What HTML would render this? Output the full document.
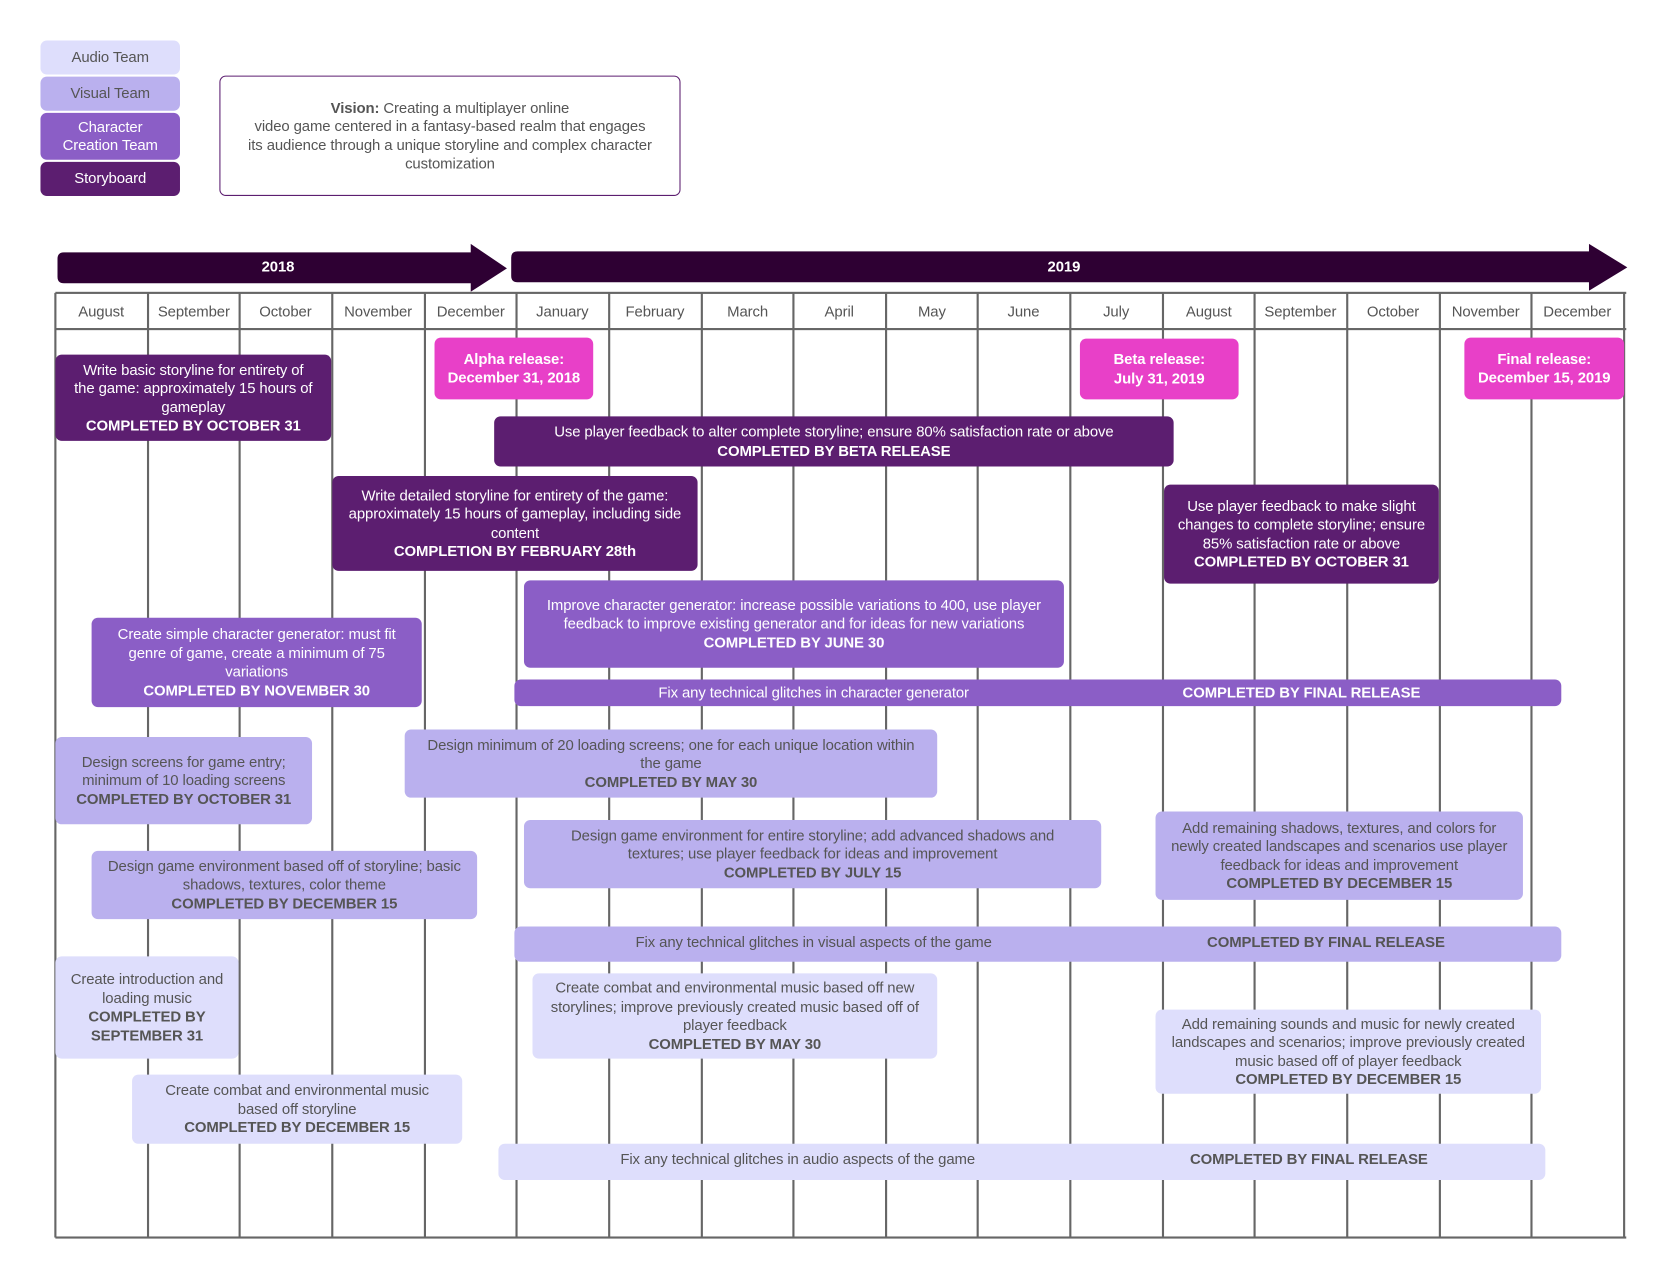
<!DOCTYPE html>
<html><head><meta charset="utf-8"><style>
html,body{margin:0;padding:0;background:#fff;}
body{width:1670px;height:1282px;overflow:hidden;position:relative;}
#w{position:absolute;left:0;top:0;width:1560px;height:1198px;transform:scale(1.065);transform-origin:0 0;font-family:"Liberation Sans",Arial,sans-serif;font-size:14px;line-height:17.5px;letter-spacing:-0.1px;}
.b{position:absolute;display:flex;align-items:center;justify-content:center;text-align:center;border-radius:6px;box-sizing:border-box;padding:0 2px;white-space:nowrap;}
.s{background:#5c1e70;color:#fff;}
.c{background:#8b5ec6;color:#fff;}
.v{background:#bab0ee;color:#555;}
.a{background:#dedefc;color:#555;}
.p{background:#e840c8;color:#fff;font-weight:bold;}
b{font-weight:bold;}
.vl{position:absolute;top:275px;height:887px;width:2px;background:#666;}
.hl{position:absolute;left:52px;width:1475px;height:2px;background:#666;}
.m{position:absolute;top:276px;height:33px;width:86px;display:flex;align-items:center;justify-content:center;color:#555;font-size:14px;}
.t{position:absolute;display:flex;align-items:center;justify-content:center;white-space:nowrap;}
</style></head><body><div id="w">
<div class="b a" style="left:38px;top:38px;width:131px;height:32px;">Audio Team</div>
<div class="b v" style="left:38px;top:72px;width:131px;height:32px;">Visual Team</div>
<div class="b c" style="left:38px;top:106px;width:131px;height:44px;">Character<br>Creation Team</div>
<div class="b s" style="left:38px;top:152px;width:131px;height:32px;">Storyboard</div>
<div class="b" style="left:206px;top:71px;width:433px;height:113px;border:1px solid #5c1e70;color:#555;"><div><b>Vision:</b> Creating a multiplayer online<br>video game centered in a fantasy-based realm that engages<br>its audience through a unique storyline and complex character<br>customization</div></div>

<svg style="position:absolute;left:0;top:0" width="1560" height="290">
<path d="M60 237 H442 V229 L476 252 L442 274 V266 H60 Q54 266 54 260 V243 Q54 237 60 237Z" fill="#2e0033"/>
<path d="M486 236 H1492 V229 L1528 251 L1492 273 V265 H486 Q480 265 480 259 V242 Q480 236 486 236Z" fill="#2e0033"/>
<text x="261" y="255" fill="#fff" font-family="Liberation Sans" font-weight="bold" font-size="14" text-anchor="middle">2018</text>
<text x="999" y="255" fill="#fff" font-family="Liberation Sans" font-weight="bold" font-size="14" text-anchor="middle">2019</text>
</svg>

<div class="hl" style="top:274px"></div>
<div class="hl" style="top:308px"></div>
<div class="hl" style="top:1161px"></div>
<div class="vl" style="left:51px"></div><div class="vl" style="left:138px"></div><div class="vl" style="left:224px"></div><div class="vl" style="left:311px"></div><div class="vl" style="left:398px"></div><div class="vl" style="left:484px"></div><div class="vl" style="left:571px"></div><div class="vl" style="left:658px"></div><div class="vl" style="left:744px"></div><div class="vl" style="left:831px"></div><div class="vl" style="left:917px"></div><div class="vl" style="left:1004px"></div><div class="vl" style="left:1091px"></div><div class="vl" style="left:1177px"></div><div class="vl" style="left:1264px"></div><div class="vl" style="left:1351px"></div><div class="vl" style="left:1437px"></div><div class="vl" style="left:1524px"></div>
<div class="m" style="left:52px">August</div><div class="m" style="left:139px">September</div><div class="m" style="left:225px">October</div><div class="m" style="left:312px">November</div><div class="m" style="left:399px">December</div><div class="m" style="left:485px">January</div><div class="m" style="left:572px">February</div><div class="m" style="left:659px">March</div><div class="m" style="left:745px">April</div><div class="m" style="left:832px">May</div><div class="m" style="left:918px">June</div><div class="m" style="left:1005px">July</div><div class="m" style="left:1092px">August</div><div class="m" style="left:1178px">September</div><div class="m" style="left:1265px">October</div><div class="m" style="left:1352px">November</div><div class="m" style="left:1438px">December</div>

<div class="b s" style="left:52px;top:333px;width:259px;height:81px;"><div>Write basic storyline for entirety of<br>the game: approximately 15 hours of<br>gameplay<br><b>COMPLETED BY OCTOBER 31</b></div></div>
<div class="b p" style="left:408px;top:317px;width:149px;height:58px;"><div>Alpha release:<br>December 31, 2018</div></div>
<div class="b s" style="left:464px;top:391px;width:638px;height:47px;"><div>Use player feedback to alter complete storyline; ensure 80% satisfaction rate or above<br><b>COMPLETED BY BETA RELEASE</b></div></div>
<div class="b s" style="left:312px;top:447px;width:343px;height:89px;"><div>Write detailed storyline for entirety of the game:<br>approximately 15 hours of gameplay, including side<br>content<br><b>COMPLETION BY FEBRUARY 28th</b></div></div>
<div class="b p" style="left:1014px;top:318px;width:149px;height:57px;"><div>Beta release:<br>July 31, 2019</div></div>
<div class="b p" style="left:1375px;top:317px;width:150px;height:58px;"><div>Final release:<br>December 15, 2019</div></div>
<div class="b s" style="left:1093px;top:455px;width:258px;height:93px;"><div>Use player feedback to make slight<br>changes to complete storyline; ensure<br>85% satisfaction rate or above<br><b>COMPLETED BY OCTOBER 31</b></div></div>

<div class="b c" style="left:492px;top:545px;width:507px;height:82px;"><div>Improve character generator: increase possible variations to 400, use player<br>feedback to improve existing generator and for ideas for new variations<br><b>COMPLETED BY JUNE 30</b></div></div>
<div class="b c" style="left:86px;top:580px;width:310px;height:84px;"><div>Create simple character generator: must fit<br>genre of game, create a minimum of 75<br>variations<br><b>COMPLETED BY NOVEMBER 30</b></div></div>
<div class="b c" style="left:483px;top:638px;width:983px;height:25px;"></div>
<div class="t" style="left:564px;top:638px;width:400px;height:25px;color:#fff;">Fix any technical glitches in character generator</div>
<div class="t" style="left:1022px;top:638px;width:400px;height:25px;color:#fff;font-weight:bold;">COMPLETED BY FINAL RELEASE</div>

<div class="b v" style="left:52px;top:692px;width:241px;height:82px;"><div>Design screens for game entry;<br>minimum of 10 loading screens<br><b>COMPLETED BY OCTOBER 31</b></div></div>
<div class="b v" style="left:380px;top:685px;width:500px;height:64px;"><div>Design minimum of 20 loading screens; one for each unique location within<br>the game<br><b>COMPLETED BY MAY 30</b></div></div>
<div class="b v" style="left:492px;top:770px;width:542px;height:64px;"><div>Design game environment for entire storyline; add advanced shadows and<br>textures; use player feedback for ideas and improvement<br><b>COMPLETED BY JULY 15</b></div></div>
<div class="b v" style="left:1085px;top:762px;width:345px;height:83px;"><div>Add remaining shadows, textures, and colors for<br>newly created landscapes and scenarios use player<br>feedback for ideas and improvement<br><b>COMPLETED BY DECEMBER 15</b></div></div>
<div class="b v" style="left:86px;top:799px;width:362px;height:64px;"><div>Design game environment based off of storyline; basic<br>shadows, textures, color theme<br><b>COMPLETED BY DECEMBER 15</b></div></div>
<div class="b v" style="left:483px;top:870px;width:983px;height:33px;"></div>
<div class="t" style="left:514px;top:870px;width:500px;height:30px;color:#555;">Fix any technical glitches in visual aspects of the game</div>
<div class="t" style="left:1045px;top:870px;width:400px;height:30px;color:#555;font-weight:bold;">COMPLETED BY FINAL RELEASE</div>

<div class="b a" style="left:52px;top:898px;width:172px;height:96px;"><div>Create introduction and<br>loading music<br><b>COMPLETED BY<br>SEPTEMBER 31</b></div></div>
<div class="b a" style="left:500px;top:914px;width:380px;height:80px;"><div>Create combat and environmental music based off new<br>storylines; improve previously created music based off of<br>player feedback<br><b>COMPLETED BY MAY 30</b></div></div>
<div class="b a" style="left:1085px;top:948px;width:362px;height:79px;"><div>Add remaining sounds and music for newly created<br>landscapes and scenarios; improve previously created<br>music based off of player feedback<br><b>COMPLETED BY DECEMBER 15</b></div></div>
<div class="b a" style="left:124px;top:1009px;width:310px;height:65px;"><div>Create combat and environmental music<br>based off storyline<br><b>COMPLETED BY DECEMBER 15</b></div></div>
<div class="b a" style="left:468px;top:1074px;width:983px;height:34px;"></div>
<div class="t" style="left:499px;top:1074px;width:500px;height:30px;color:#555;">Fix any technical glitches in audio aspects of the game</div>
<div class="t" style="left:1029px;top:1074px;width:400px;height:30px;color:#555;font-weight:bold;">COMPLETED BY FINAL RELEASE</div>
</div></body></html>
